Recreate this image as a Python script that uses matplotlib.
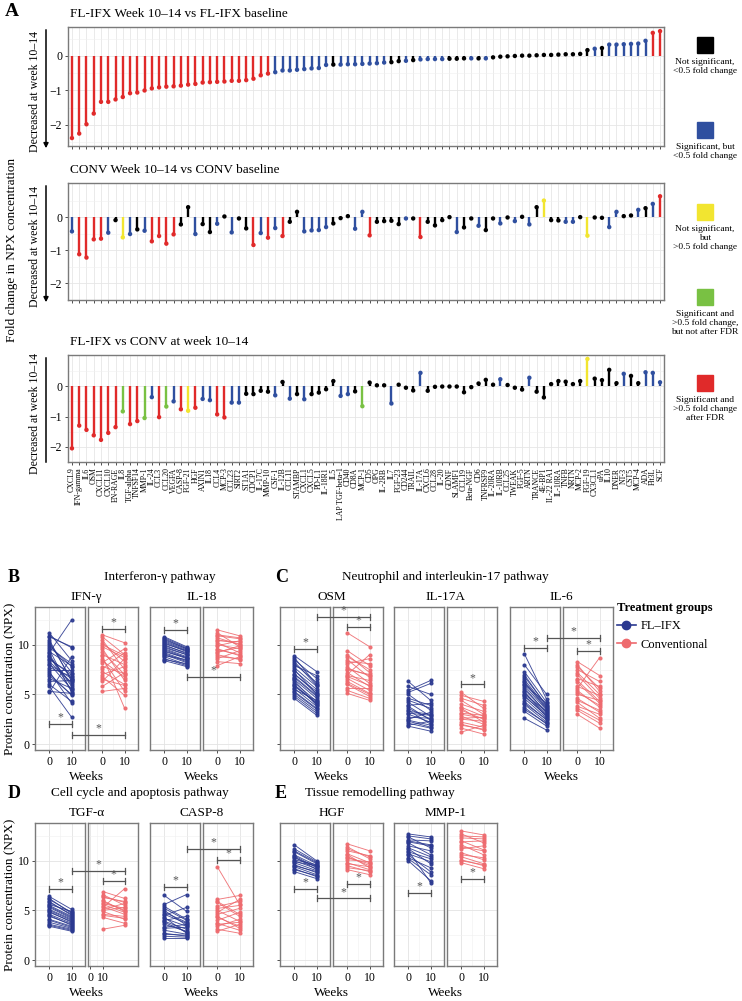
import numpy as np
import matplotlib
matplotlib.use("Agg")
import matplotlib.pyplot as plt
from matplotlib.lines import Line2D
from matplotlib.patches import Rectangle, FancyArrowPatch

plt.rcParams['font.family'] = ['Liberation Serif', 'DejaVu Serif']

# ---------------- Panel A data ----------------
proteins = ['CXCL9', 'IFN-gamma', 'IL6', 'OSM', 'CXCL11', 'CXCL10', 'EN-RAGE', 'IL8',
            'TGF-alpha', 'TNFSF14', 'MMP-1', 'IL-24', 'CCL3', 'CCL20', 'VEGFA', 'CASP-8',
            'FGF-21', 'HGF', 'AXIN1', 'IL18', 'CCL4', 'MCP-3', 'CCL23', 'SIRT2', 'ST1A1',
            'CDCP1', 'IL-17C', 'MMP-10', 'CSF-1', 'IL-12B', 'CCL11', 'STAMBP', 'CXCL1',
            'CXCL5', 'PD-L1', 'IL-18R1', 'IL5', 'LAP TGF-beta-1', 'CD40', 'CD8A', 'MCP-1',
            'CD5', 'OPG', 'IL-2RB', 'IL7', 'FGF-23', 'CD244', 'TRAIL', 'IL-17A', 'CXCL6',
            'CCL28', 'IL-20', 'GDNF', 'SLAMF1', 'CCL19', 'Beta-NGF', 'CD6', 'TNFRSF9',
            'IL-20RA', 'IL-10RB', 'CCL25', 'TWEAK', 'FGF-5', 'ARTN', 'TRANCE', '4E-BP1',
            'IL-22 RA1', 'IL-10RA', 'TNFB', 'NRTN', 'MCP-2', 'FGF-19', 'CX3CL1', 'uPA',
            'IL10', 'DNER', 'NT-3', 'CST5', 'MCP-4', 'ADA', 'Flt3L', 'SCF']

fc_flifx = [-2.38, -2.25, -1.98, -1.67, -1.33, -1.33, -1.26, -1.19, -1.08, -1.06,
            -1.00, -0.94, -0.91, -0.89, -0.88, -0.86, -0.83, -0.81, -0.77, -0.76,
            -0.75, -0.74, -0.72, -0.72, -0.70, -0.66, -0.56, -0.51, -0.47, -0.42,
            -0.42, -0.40, -0.38, -0.36, -0.35, -0.26, -0.25, -0.25, -0.24, -0.24,
            -0.23, -0.22, -0.21, -0.19, -0.18, -0.15, -0.14, -0.12, -0.10, -0.09,
            -0.09, -0.09, -0.08, -0.08, -0.07, -0.07, -0.07, -0.07, -0.04, -0.02,
            -0.01, 0.00, 0.01, 0.01, 0.02, 0.03, 0.03, 0.04, 0.05, 0.05,
            0.06, 0.17, 0.21, 0.23, 0.33, 0.33, 0.34, 0.35, 0.36, 0.44,
            0.67, 0.72]
sig_flifx = list('rrrrrrrrrrrrrrrrrrrrrrrrrrrr' 'bbbbbbbb' 'k' 'bbbbbbb' 'kkbk' 'bbbb'
                 'kkk' 'bkb' 'kkkkkkkkkkkkk' 'kbk' 'bbbbbb' 'rr')

fc_conv = [-0.43, -1.12, -1.22, -0.67, -0.65, -0.47, -0.09, -0.61, -0.51, -0.37,
           -0.41, -0.73, -0.57, -0.80, -0.52, -0.22, 0.30, -0.51, -0.21, -0.45,
           -0.20, 0.02, -0.46, -0.04, -0.34, -0.84, -0.48, -0.62, -0.33, -0.57,
           -0.14, 0.16, -0.43, -0.40, -0.39, -0.30, -0.19, -0.03, 0.03, -0.35,
           0.16, -0.55, -0.14, -0.12, -0.11, -0.21, -0.04, -0.04, -0.60, -0.14,
           -0.25, -0.09, 0.00, -0.45, -0.31, -0.04, -0.26, -0.39, -0.04, -0.19,
           -0.01, -0.12, 0.01, -0.22, 0.30, 0.50, -0.09, -0.10, -0.14, -0.14,
           0.00, -0.56, -0.01, -0.02, -0.30, 0.16, 0.03, 0.05, 0.22, 0.27,
           0.40, 0.63]
sig_conv = list('brrrrbkybkbrrrrkkbkkbkbkkrbrbrkkbbbbkkkbbrkkkkbkrkkkkbkkbkkbkbkbkykkbbkykkbbkkbkbr')

fc_between = [-2.05, -1.30, -1.44, -1.62, -1.77, -1.54, -1.35, -0.83, -1.25, -1.15,
              -1.05, -0.36, -1.02, -0.67, -0.50, -0.76, -0.81, -0.71, -0.42, -0.46,
              -0.93, -1.03, -0.54, -0.54, -0.25, -0.26, -0.15, -0.18, -0.30, 0.14,
              -0.41, -0.26, -0.43, -0.26, -0.21, -0.10, 0.17, -0.32, -0.26, -0.17,
              -0.66, 0.12, 0.03, 0.03, -0.57, 0.05, -0.05, -0.14, 0.44, -0.15,
              -0.02, -0.01, -0.01, -0.01, -0.20, -0.03, 0.09, 0.21, 0.05, 0.23,
              0.04, -0.05, -0.11, 0.28, -0.18, -0.37, 0.07, 0.17, 0.15, 0.07,
              0.17, 0.90, 0.25, 0.20, 0.54, 0.10, 0.41, 0.34, 0.10, 0.46,
              0.44, 0.13]
sig_between = list('rrrrrrrgrrgbrgbryrbbrrbbkkkkbkbkbkkkkbbkgkkkbkkkbkkkkkkkkkkbkkkbkkkkkkkykkkkbkkbbb')

sig_colors = {'k': '#000000', 'b': '#2F4F9F', 'y': '#F2E530', 'g': '#79C143', 'r': '#E02A2A'}
legend_labels = ['Not significant,\n<0.5 fold change',
                 'Significant, but\n<0.5 fold change',
                 'Not significant,\nbut\n>0.5 fold change',
                 'Significant and\n>0.5 fold change,\nbut not after FDR',
                 'Significant and\n>0.5 fold change\nafter FDR']
legend_codes = ['k', 'b', 'y', 'g', 'r']

# ---------------- Panels B-E data (NPX per patient) ----------------
ifng_fl_0 = [11.2, 10.8, 10.3, 9.9, 9.5, 9.2, 8.8, 8.5, 8.1, 7.7, 7.3, 6.9, 6.3, 5.8, 5.3,
             5.2, 9.0, 7.5, 10.1, 8.3, 10.5, 9.7, 8.9, 8.0, 7.1, 6.6, 6.0, 9.3, 10.9, 8.6]
ifng_fl_10 = [8.4, 9.8, 6.5, 7.8, 5.2, 12.5, 6.0, 7.1, 5.5, 6.8, 4.1, 5.0, 6.4, 2.7, 5.1,
              8.8, 5.8, 7.5, 7.2, 6.2, 6.3, 8.1, 5.4, 6.6, 4.9, 5.6, 4.3, 7.9, 9.7, 6.9]
ifng_cv_0 = [11.0, 10.5, 10.0, 9.6, 9.0, 8.6, 8.2, 7.8, 7.3, 6.8, 6.3, 5.8, 5.3, 8.9, 10.8,
             7.0, 10.2, 9.3, 8.4, 7.6, 6.5, 9.8]
ifng_cv_10 = [10.2, 7.5, 8.9, 6.4, 8.0, 5.3, 9.6, 7.1, 6.0, 4.9, 8.6, 7.2, 5.6, 3.6, 9.0,
              7.8, 8.3, 7.0, 6.7, 9.2, 5.9, 8.7]

il18_fl_0 = [10.8, 10.6, 10.4, 10.2, 10.0, 9.8, 9.6, 9.4, 9.2, 9.0, 8.8, 8.6, 8.4, 9.9,
             10.3, 9.5, 10.7, 10.1, 9.7, 9.3, 8.9, 8.5, 10.5, 9.1]
il18_fl_10 = [9.8, 9.6, 9.5, 9.3, 9.1, 9.0, 8.8, 8.6, 8.4, 8.2, 8.0, 7.9, 7.8, 9.2,
              9.4, 8.7, 9.7, 9.4, 9.0, 8.7, 8.5, 8.1, 9.6, 8.3]
il18_cv_0 = [11.5, 11.2, 10.9, 10.5, 10.2, 9.9, 9.6, 9.3, 9.0, 8.6, 8.3, 7.9, 10.7, 9.5,
             11.0, 10.0, 9.2, 8.8, 10.4]
il18_cv_10 = [10.9, 9.8, 10.6, 10.1, 9.2, 10.4, 8.9, 9.7, 8.5, 9.4, 8.1, 8.8, 10.0, 9.0,
              10.7, 9.6, 9.9, 8.6, 10.3]

osm_fl_0 = [8.9, 8.5, 8.1, 7.7, 7.4, 7.1, 6.8, 6.5, 6.2, 5.9, 5.6, 5.3, 5.0, 4.6, 7.9,
            6.0, 7.0, 5.5, 8.7, 8.3, 7.5, 6.7, 6.4, 5.8, 5.2, 4.8]
osm_fl_10 = [7.3, 6.6, 6.2, 5.8, 5.5, 5.1, 4.9, 4.6, 4.3, 4.1, 3.8, 3.6, 3.3, 2.9, 6.9,
             4.0, 5.3, 4.4, 6.0, 5.9, 5.0, 4.8, 3.9, 4.2, 3.5, 3.1]
osm_cv_0 = [11.2, 9.4, 8.8, 8.5, 8.1, 7.8, 7.5, 7.2, 6.9, 6.6, 6.3, 6.0, 5.6, 5.1, 7.0,
            9.0, 8.3, 7.6, 6.8, 6.1, 5.4]
osm_cv_10 = [9.8, 7.9, 7.5, 6.7, 8.6, 6.1, 7.0, 5.8, 6.4, 5.4, 5.1, 4.8, 5.6, 4.4, 9.0,
             7.2, 8.1, 6.9, 5.9, 5.0, 4.6]

il17a_fl_0 = [6.3, 5.4, 5.0, 4.6, 4.2, 3.9, 3.6, 3.3, 3.0, 2.7, 2.4, 2.1, 1.8, 5.2, 2.5,
              3.4, 5.8, 4.4, 3.8, 3.1, 2.3, 1.9]
il17a_fl_10 = [4.4, 6.4, 3.4, 3.9, 2.8, 4.1, 2.5, 3.0, 2.2, 2.6, 1.9, 1.6, 1.3, 6.1, 3.2,
               2.0, 5.0, 3.6, 2.4, 2.9, 1.7, 2.3]
il17a_cv_0 = [5.2, 4.9, 4.4, 4.0, 3.7, 3.4, 3.1, 2.8, 2.5, 2.2, 1.9, 1.6, 1.2, 3.0,
              4.6, 3.6, 2.6, 2.0]
il17a_cv_10 = [3.6, 4.3, 3.0, 3.3, 2.8, 2.5, 2.9, 2.0, 2.3, 1.7, 1.5, 1.0, 1.9, 2.6,
               3.9, 2.2, 2.7, 1.4]

il6_fl_0 = [9.1, 8.0, 7.3, 6.8, 6.3, 5.9, 5.5, 5.2, 4.9, 4.6, 4.3, 4.0, 3.7, 3.3, 2.6,
            6.0, 5.0, 7.0, 6.5, 5.7, 4.8, 4.1, 3.5, 5.3, 6.2]
il6_fl_10 = [4.5, 5.0, 4.2, 3.9, 3.6, 3.4, 3.2, 3.0, 2.8, 2.6, 2.4, 2.2, 2.0, 1.8, 1.4,
             4.1, 3.3, 3.8, 3.7, 3.1, 2.9, 2.5, 2.1, 2.7, 3.5]
il6_cv_0 = [8.3, 8.0, 7.5, 7.0, 6.6, 6.2, 5.8, 5.4, 5.0, 4.6, 4.2, 3.8, 3.4, 3.0, 5.6,
            7.8, 7.2, 6.4, 5.2, 4.4, 3.6]
il6_cv_10 = [6.9, 5.3, 6.3, 4.6, 5.8, 4.1, 4.9, 3.7, 4.4, 3.2, 2.6, 3.0, 2.1, 1.6, 8.7,
             5.6, 5.0, 4.3, 3.9, 3.4, 2.4]

tgfa_fl_0 = [6.4, 6.1, 5.8, 5.5, 5.3, 5.0, 4.8, 4.6, 4.4, 4.1, 3.8, 3.5, 3.4, 5.6, 4.9,
             6.2, 5.9, 5.4, 5.1, 4.5, 4.0, 3.6]
tgfa_fl_10 = [5.1, 4.8, 4.6, 4.4, 4.2, 4.0, 3.9, 3.7, 3.6, 3.4, 3.2, 3.0, 2.9, 4.9, 3.8,
              4.7, 4.5, 4.3, 4.1, 3.5, 3.3, 3.1]
tgfa_cv_0 = [6.9, 6.6, 6.3, 6.0, 5.7, 5.4, 5.1, 4.9, 4.6, 4.3, 3.1, 5.3, 5.9,
             6.4, 5.6, 5.0, 4.5]
tgfa_cv_10 = [6.2, 5.5, 5.9, 4.9, 5.2, 4.6, 5.7, 4.1, 4.4, 3.7, 3.5, 7.2, 5.0,
              5.8, 4.8, 5.3, 4.2]

casp8_fl_0 = [6.5, 5.6, 5.2, 4.8, 4.5, 4.2, 3.9, 3.6, 3.3, 3.0, 2.7, 2.4, 2.2, 4.0, 5.0,
              5.4, 4.6, 3.8, 3.2, 2.6, 4.3]
casp8_fl_10 = [4.9, 6.6, 4.0, 3.8, 5.3, 3.4, 3.1, 2.9, 3.6, 2.6, 2.4, 2.3, 2.2, 4.4, 3.5,
               4.1, 3.7, 2.8, 3.3, 2.5, 2.7]
casp8_cv_0 = [9.4, 6.1, 5.8, 5.4, 5.0, 4.6, 4.3, 4.0, 3.7, 3.4, 3.1, 2.9, 4.8,
              5.9, 5.2, 4.4, 3.6]
casp8_cv_10 = [5.6, 6.5, 4.4, 5.9, 3.9, 5.2, 3.4, 4.8, 3.0, 4.1, 2.7, 3.6, 6.1,
               4.6, 5.5, 3.2, 3.8]

hgf_fl_0 = [11.6, 11.2, 10.9, 10.6, 10.3, 10.0, 9.8, 9.6, 9.4, 9.2, 8.9, 10.1, 10.4,
            11.0, 10.5, 9.9, 9.5, 9.1]
hgf_fl_10 = [10.0, 9.9, 9.7, 9.5, 9.4, 9.2, 9.0, 8.8, 8.6, 8.4, 8.2, 9.6, 9.1,
             9.8, 9.3, 9.5, 8.9, 8.5]
hgf_cv_0 = [11.7, 11.4, 11.0, 10.7, 10.4, 10.1, 9.8, 9.5, 9.1, 10.6,
            11.2, 10.3, 9.7, 9.3]
hgf_cv_10 = [11.0, 10.2, 10.5, 9.8, 9.5, 9.9, 9.1, 8.9, 8.6, 9.3,
             10.4, 9.7, 9.4, 9.0]

mmp1_fl_0 = [12.7, 12.4, 12.1, 11.8, 11.5, 11.2, 10.9, 10.6, 10.3, 10.0, 11.0, 12.0,
             12.5, 11.9, 11.3, 10.7, 10.2]
mmp1_fl_10 = [12.4, 11.3, 12.0, 10.6, 11.0, 9.7, 10.2, 8.9, 9.3, 8.0, 7.8, 11.6,
              12.2, 11.5, 10.4, 9.9, 8.6]
mmp1_cv_0 = [13.0, 12.7, 12.3, 12.0, 11.6, 11.2, 10.8, 10.4, 10.1, 9.8, 11.9,
             12.5, 11.4, 10.6, 10.0]
mmp1_cv_10 = [12.6, 11.8, 12.2, 11.1, 10.6, 11.5, 10.1, 9.7, 9.5, 9.2, 12.0,
              12.4, 11.0, 10.3, 9.6]

# significance brackets: (group from, week from, group to, week to, y)
ifng_sig = [('fl', 0, 'fl', 10, 2.0), ('fl', 10, 'cv', 10, 0.9), ('cv', 0, 'cv', 10, 11.6)]
il18_sig = [('fl', 0, 'fl', 10, 11.5), ('fl', 10, 'cv', 10, 6.8)]
osm_sig = [('fl', 0, 'fl', 10, 9.6), ('fl', 10, 'cv', 10, 12.8), ('cv', 0, 'cv', 10, 11.8)]
il17a_sig = [('cv', 0, 'cv', 10, 6.0)]
il6_sig = [('fl', 0, 'fl', 10, 9.7), ('fl', 10, 'cv', 10, 10.7), ('cv', 0, 'cv', 10, 9.4)]
tgfa_sig = [('fl', 0, 'fl', 10, 7.2), ('fl', 10, 'cv', 28, 9.0), ('cv', 10, 'cv', 28, 8.0)]
casp8_sig = [('fl', 0, 'fl', 10, 7.4), ('fl', 10, 'cv', 10, 11.2), ('cv', 0, 'cv', 10, 10.1)]
hgf_sig = [('fl', 0, 'fl', 10, 7.2), ('fl', 10, 'cv', 10, 6.2), ('cv', 0, 'cv', 10, 7.7)]
mmp1_sig = [('fl', 0, 'fl', 10, 6.8), ('cv', 0, 'cv', 10, 8.2)]

FL_COL = '#2B3990'
CV_COL = '#EE6A6E'

# ---------------- figure ----------------
W, H = 742, 1001
fig = plt.figure(figsize=(W / 100, H / 100), dpi=100)


def rect(l, t, r, b):
    return [l / W, 1 - b / H, (r - l) / W, (b - t) / H]


def fx(px):
    return px / W


def fy(py):
    return 1 - py / H


def style_frame(ax):
    for s in ax.spines.values():
        s.set_color('#7a7a7a')
        s.set_linewidth(1.0)


# Panel A
x = np.arange(len(proteins))
a_panels = [
    (fc_flifx, sig_flifx, 'FL-IFX Week 10–14 vs FL-IFX baseline', 27, 146, (-2.61, 0.84)),
    (fc_conv, sig_conv, 'CONV Week 10–14 vs CONV baseline', 183, 300, (-2.41, 1.03)),
    (fc_between, sig_between, 'FL-IFX vs CONV at week 10–14', 355, 462, (-2.12, 1.03)),
]
for i, (vals, codes, title, top, bot, lim) in enumerate(a_panels):
    ax = fig.add_axes(rect(67.6, top, 664.4, bot))
    cols = [sig_colors[c] for c in codes]
    ax.vlines(x, 0, vals, colors=cols, lw=1.7, zorder=2)
    ax.scatter(x, vals, c=cols, s=10, zorder=3, linewidths=0)
    ax.set_xlim(-0.6, len(proteins) - 0.4)
    ax.set_ylim(*lim)
    ax.set_yticks([0, -1, -2])
    ax.set_yticklabels(['0', '−1', '−2'], fontsize=8.5)
    ax.set_yticks([-2.5, -1.5, -0.5, 0.5], minor=True)
    ax.set_xticks(x)
    if i == 2:
        ax.set_xticklabels(proteins, rotation=90, fontsize=5.6)
    else:
        ax.set_xticklabels([])
    ax.tick_params(axis='both', which='major', length=2.5, width=0.6, color='#333333', pad=1.5)
    ax.tick_params(axis='y', which='minor', length=0)
    ax.grid(which='major', color='#e6e6e6', lw=0.6)
    ax.grid(which='minor', axis='y', color='#f0f0f0', lw=0.4)
    ax.set_axisbelow(True)
    style_frame(ax)
    fig.text(fx(70), fy(top - 13), title, fontsize=9.5, va='center', ha='left')
    fig.text(fx(35), fy((top + bot) / 2 + 5), 'Decreased at week 10–14', rotation=90,
             fontsize=8.5, ha='center', va='center')
    if i < 2:
        fig.add_artist(FancyArrowPatch((fx(46), fy(top)), (fx(46), fy(bot + 5)),
                                       transform=fig.transFigure, arrowstyle='-|>',
                                       mutation_scale=7, lw=1.1, color='black'))
    else:
        fig.add_artist(Line2D([fx(46), fx(46)], [fy(top + 3), fy(bot)],
                              transform=fig.transFigure, lw=1.1, color='black'))

fig.text(fx(5), fy(12), 'A', fontsize=14, fontweight='bold', va='center')
fig.text(fx(12), fy(250), 'Fold change in NPX concentration', rotation=90,
         fontsize=9.5, ha='center', va='center')

# significance legend for A
leg_y = [45, 130, 212, 297, 383]
for code, lab, yy in zip(legend_codes, legend_labels, leg_y):
    fig.add_artist(Rectangle((fx(697), fy(yy + 8)), 16 / W, 16 / H,
                             transform=fig.transFigure, color=sig_colors[code]))
    fig.text(fx(705), fy(yy + 13), lab, fontsize=6.8, ha='center', va='top', linespacing=1.15)

# Panels B-E
col_px = [(35, 85, 88, 138), (150, 200, 203, 253), (280, 330, 333, 383),
          (394, 444, 447, 497), (510, 560, 563, 613)]
row_px = [(607, 750), (823, 966)]
YLIM = (-0.6, 13.8)

specs = [
    ('IFN-γ', 0, 0, ifng_fl_0, ifng_fl_10, ifng_cv_0, ifng_cv_10, ifng_sig, (0, 10)),
    ('IL-18', 0, 1, il18_fl_0, il18_fl_10, il18_cv_0, il18_cv_10, il18_sig, (0, 10)),
    ('OSM', 0, 2, osm_fl_0, osm_fl_10, osm_cv_0, osm_cv_10, osm_sig, (0, 10)),
    ('IL-17A', 0, 3, il17a_fl_0, il17a_fl_10, il17a_cv_0, il17a_cv_10, il17a_sig, (0, 10)),
    ('IL-6', 0, 4, il6_fl_0, il6_fl_10, il6_cv_0, il6_cv_10, il6_sig, (0, 10)),
    ('TGF-α', 1, 0, tgfa_fl_0, tgfa_fl_10, tgfa_cv_0, tgfa_cv_10, tgfa_sig, (10, 28)),
    ('CASP-8', 1, 1, casp8_fl_0, casp8_fl_10, casp8_cv_0, casp8_cv_10, casp8_sig, (0, 10)),
    ('HGF', 1, 2, hgf_fl_0, hgf_fl_10, hgf_cv_0, hgf_cv_10, hgf_sig, (0, 10)),
    ('MMP-1', 1, 3, mmp1_fl_0, mmp1_fl_10, mmp1_cv_0, mmp1_cv_10, mmp1_sig, (0, 10)),
]


def to_fig(ax, xv, yv):
    return fig.transFigure.inverted().transform(ax.transData.transform((xv, yv)))


def bracket(p1, p2):
    (x1, y1), (x2, y2) = p1, p2
    tick = 3 / H
    c = '#555555'
    fig.add_artist(Line2D([x1, x2], [y1, y2], transform=fig.transFigure, color=c, lw=0.9))
    for xx in (x1, x2):
        fig.add_artist(Line2D([xx, xx], [y1 - tick, y1 + tick], transform=fig.transFigure,
                              color=c, lw=0.9))
    fig.text((x1 + x2) / 2, y1 + 0.5 / H, '*', fontsize=8.5, ha='center', va='bottom', color=c)


for name, row, col, f0, f10, c0, c10, sigs, cvx in specs:
    top, bot = row_px[row]
    l1, r1, l2, r2 = col_px[col]
    ax_fl = fig.add_axes(rect(l1, top, r1, bot))
    ax_cv = fig.add_axes(rect(l2, top, r2, bot))
    ax_fl.set_xlim(-6.4, 16)
    if cvx == (0, 10):
        ax_cv.set_xlim(-6.4, 16)
    else:
        ax_cv.set_xlim(-2, 38.8)
    for ax, b0, b10, xs, colr in ((ax_fl, f0, f10, (0, 10), FL_COL),
                                  (ax_cv, c0, c10, cvx, CV_COL)):
        for v0, v1 in zip(b0, b10):
            ax.plot(xs, [v0, v1], color=colr, lw=0.65, marker='o', ms=2.0, alpha=0.9)
        ax.set_ylim(*YLIM)
        ax.set_xticks([0, 10])
        ax.set_xticklabels(['0', '10'], fontsize=8.5)
        ax.set_xticks([5], minor=True)
        ax.set_yticks([0, 5, 10])
        ax.set_yticks([2.5, 7.5, 12.5], minor=True)
        ax.grid(which='major', color='#e3e3e3', lw=0.6)
        ax.grid(which='minor', color='#f0f0f0', lw=0.4)
        ax.set_axisbelow(True)
        ax.tick_params(which='major', length=2.5, width=0.6, color='#333333', pad=1.5)
        ax.tick_params(which='minor', length=0)
        style_frame(ax)
        ax.set_yticklabels([])
        if ax is ax_cv or col not in (0, 2):
            ax.tick_params(axis='y', length=0)
    if col == 0:
        ax_fl.set_yticklabels(['0', '5', '10'], fontsize=8.5)
    axes = {'fl': ax_fl, 'cv': ax_cv}
    for g1, w1, g2, w2, yv in sigs:
        bracket(to_fig(axes[g1], w1, yv), to_fig(axes[g2], w2, yv))
    fig.text(fx((l1 + r2) / 2), fy(top - 10), name, fontsize=9.5, ha='center', va='center')
    fig.text(fx((l1 + r2) / 2), fy(bot + 27), 'Weeks', fontsize=9.5, ha='center', va='center')

for (lab, title, xl, xt, row) in [('B', 'Interferon-γ pathway', 8, 160, 0),
                                  ('C', 'Neutrophil and interleukin-17 pathway', 275, 445, 0),
                                  ('D', 'Cell cycle and apoptosis pathway', 8, 140, 1),
                                  ('E', 'Tissue remodelling pathway', 275, 380, 1)]:
    top, bot = row_px[row]
    fig.text(fx(xl), fy(top - 30), lab, fontsize=13, fontweight='bold', va='center')
    fig.text(fx(xt), fy(top - 30), title, fontsize=9.5, ha='center', va='center')

for row in range(2):
    top, bot = row_px[row]
    fig.text(fx(10), fy((top + bot) / 2), 'Protein concentration (NPX)', rotation=90,
             fontsize=9.5, ha='center', va='center')

handles = [Line2D([0], [0], color=FL_COL, marker='o', ms=6, lw=1.2),
           Line2D([0], [0], color=CV_COL, marker='o', ms=6, lw=1.2)]
leg = fig.legend(handles, ['FL–IFX', 'Conventional'], title='Treatment groups',
                 loc='upper left', bbox_to_anchor=(fx(612), fy(597)), frameon=False,
                 fontsize=9, title_fontproperties={'weight': 'bold', 'size': 9},
                 handlelength=1.5, handletextpad=0.4, borderaxespad=0, labelspacing=0.5)
leg._legend_box.align = 'left'

fig.savefig('out.png', dpi=100)
